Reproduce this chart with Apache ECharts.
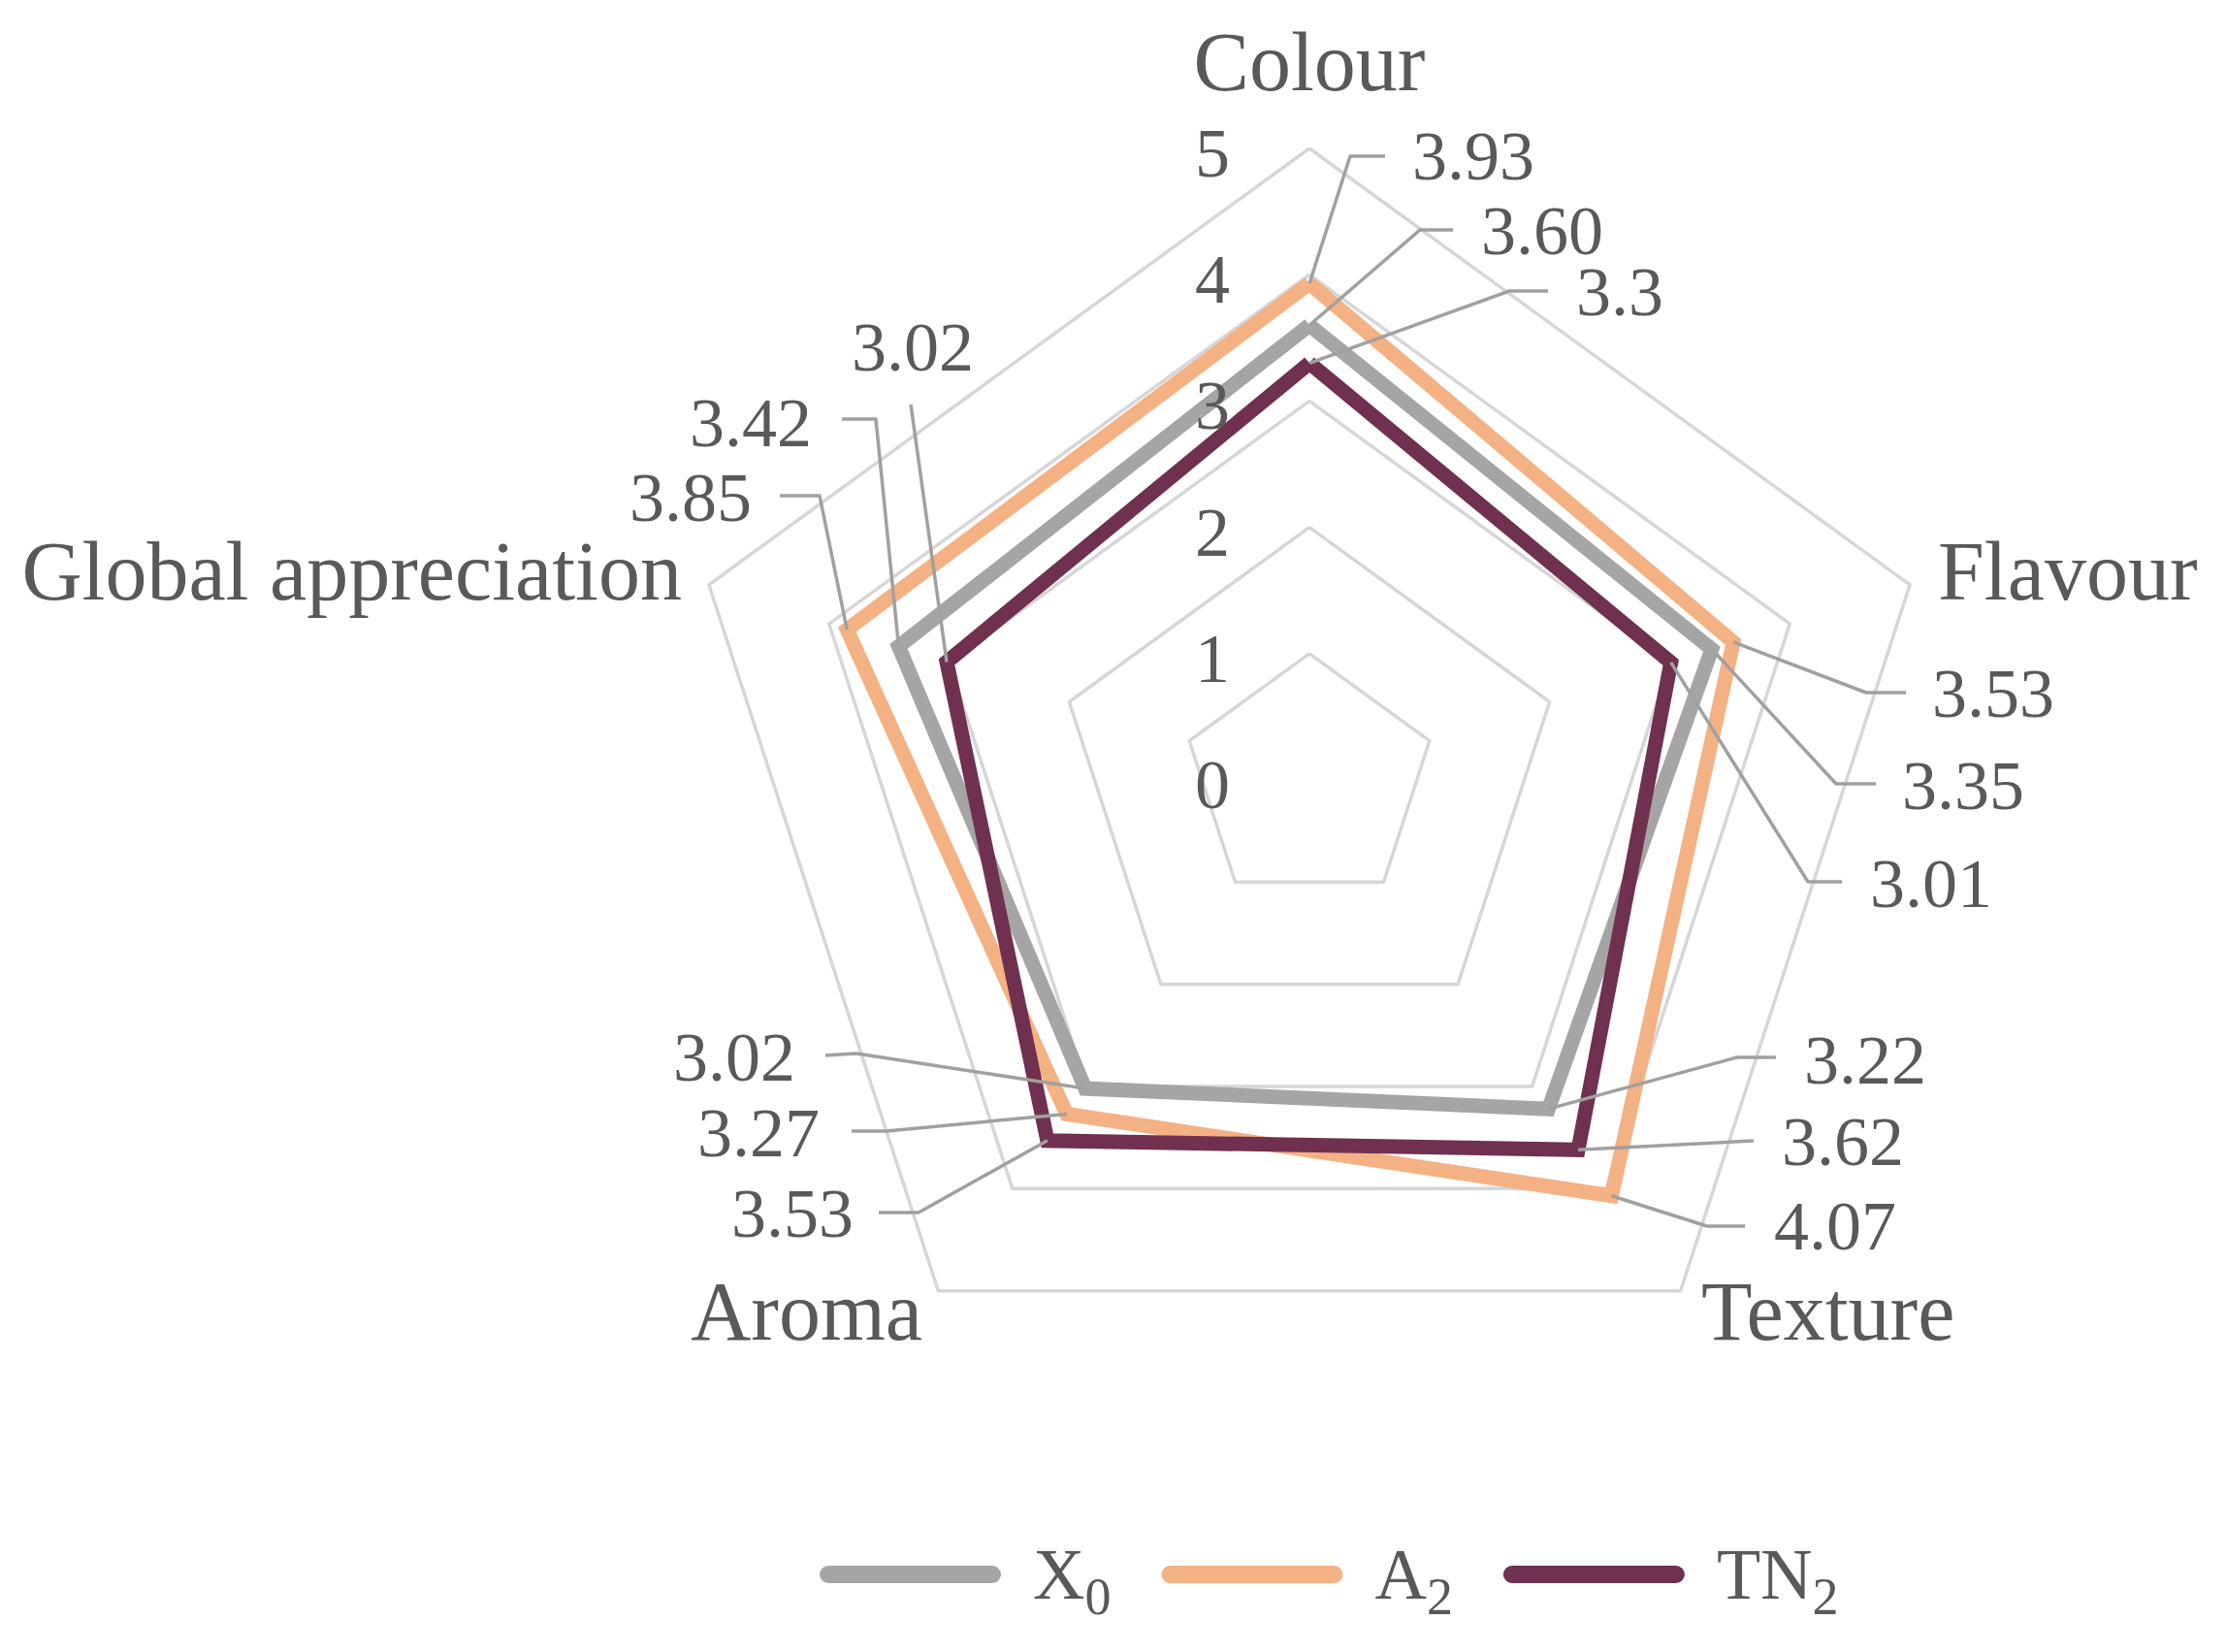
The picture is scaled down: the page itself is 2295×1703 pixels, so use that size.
<!DOCTYPE html>
<html>
<head>
<meta charset="utf-8">
<script src="https://cdn.jsdelivr.net/npm/echarts@6/dist/echarts.min.js"></script>
<style>html,body{margin:0;padding:0;background:#fff}#c{width:2295px;height:1703px}</style>
</head>
<body>
<div id="c"></div>
<script>
// ---- data (indicator order as laid out by ECharts: counter-clockwise from top) ----
const indicators = ['Colour', 'Global appreciation', 'Aroma', 'Texture', 'Flavour'];
const seriesNames = ['X0', 'A2', 'TN2'];
const x0Values  = ['3.60', '3.42', '3.02', '3.22', '3.35'];
const a2Values  = ['3.93', '3.85', '3.27', '4.07', '3.53'];
const tn2Values = ['3.3',  '3.02', '3.53', '3.62', '3.01'];
const tickLabels = ['0', '1', '2', '3', '4', '5'];

// ---- styles / layout ----
const FONT = '"Liberation Serif", "Times New Roman", serif';
const TEXT = '#595959';
const COLORS = ['#A5A5A5', '#F4B183', '#70304F'];
const LEADER = '#A0A0A0';

// axis name positions [x, y, align]
const nameLayout = [
  [1350, 64, 'center'],
  [703, 589, 'right'],
  [951, 1352, 'right'],
  [1754, 1352, 'left'],
  [1998, 589, 'left']
];
// label layout per series per indicator: end of leader, optional elbow, text anchor
const labelLayout = [
  [ // X0
    {elbow: [1464, 237], end: [1498, 237], text: [1527, 238], align: 'left'},
    {elbow: [903, 432],  end: [868, 432],  text: [837, 436],  align: 'right'},
    {elbow: [883, 1086], end: [851, 1088], text: [820, 1090], align: 'right'},
    {elbow: [1791, 1090], end: [1831, 1090], text: [1860, 1093], align: 'left'},
    {elbow: [1893, 808], end: [1934, 808], text: [1961, 810], align: 'left'}
  ],
  [ // A2
    {elbow: [1392, 161], end: [1428, 161], text: [1456, 161], align: 'left'},
    {elbow: [845, 511],  end: [804, 511],  text: [775, 513],  align: 'right'},
    {elbow: [914, 1166], end: [878, 1166], text: [845, 1168], align: 'right'},
    {elbow: [1760, 1264], end: [1799, 1264], text: [1829, 1264], align: 'left'},
    {elbow: [1924, 714], end: [1965, 714], text: [1992, 715], align: 'left'}
  ],
  [ // TN2
    {elbow: [1556, 300], end: [1596, 300], text: [1625, 301], align: 'left'},
    {elbow: null, end: [939, 417], text: [941, 358], align: 'center'},
    {elbow: [947, 1250], end: [906, 1250], text: [880, 1251], align: 'right'},
    {elbow: null, end: [1808, 1176], text: [1837, 1177], align: 'left'},
    {elbow: [1864, 909], end: [1899, 909], text: [1928, 911], align: 'left'}
  ]
];

const allValues = [x0Values, a2Values, tn2Values];

const chart = echarts.init(document.getElementById('c'), null, {renderer: 'svg'});

const option = {
  animation: false,
  backgroundColor: '#ffffff',
  radar: {
    center: [1350, 804],
    radius: 651,
    startAngle: 90,
    splitNumber: 5,
    shape: 'polygon',
    indicator: indicators.map(n => ({name: n, min: 0, max: 5})),
    axisName: {show: false},
    axisLine: {show: false},
    axisTick: {show: false},
    axisLabel: {show: false},
    splitLine: {lineStyle: {color: '#D6D6D6', width: 3.5, join: 'round'}},
    splitArea: {show: false}
  },
  legend: {
    data: seriesNames,
    left: 840,
    top: 1581,
    itemWidth: 187,
    itemHeight: 18,
    itemGap: 52,
    icon: 'path://M9 0H178A9 9 0 0 1 178 18H9A9 9 0 0 1 9 0Z',
    formatter: function (name) {
      const m = name.match(/^([A-Z]+)(\d)$/);
      return '{b|' + m[1] + '}{s|' + m[2] + '}';
    },
    textStyle: {
      color: TEXT, fontFamily: FONT, fontSize: 74, padding: [0, 0, 0, 28],
      rich: {
        b: {fontSize: 74, fontFamily: FONT, color: TEXT},
        s: {fontSize: 54, fontFamily: FONT, color: TEXT, padding: [46, 0, 0, 0]}
      }
    }
  },
  series: [{
    type: 'radar',
    symbol: 'none',
    z: 2,
    data: seriesNames.map((n, i) => ({
      name: n,
      value: allValues[i].map(Number),
      lineStyle: {color: COLORS[i], width: 15, join: 'miter'},
      itemStyle: {color: COLORS[i]}
    }))
  }]
};
chart.setOption(option);

// ---- annotations built from the radar coordinate system ----
const radarCS = chart.getModel().getComponent('radar', 0).coordinateSystem;
function pt(v, i) { return radarCS.dataToPoint(Number(v), i); }

const graphics = [];
function textEl(str, x, y, size, align) {
  return {
    type: 'text', z: 20, silent: true,
    style: {
      text: str, x: x, y: y, fill: TEXT,
      font: size + 'px ' + FONT,
      fontSize: size, fontFamily: FONT,
      textAlign: align, align: align,
      textVerticalAlign: 'middle', verticalAlign: 'middle'
    }
  };
}
// tick labels along Colour axis
tickLabels.forEach(t => {
  const p = pt(t, 0);
  graphics.push(textEl(t, p[0] - 82, p[1] + 5, 72, 'right'));
});
// axis names
indicators.forEach((n, i) => {
  const L = nameLayout[i];
  graphics.push(textEl(n, L[0], L[1], 86, L[2]));
});
// data labels with leader lines
allValues.forEach((vals, s) => {
  vals.forEach((v, i) => {
    const L = labelLayout[s][i];
    const p = pt(v, i);
    const pts = [p];
    if (L.elbow) pts.push(L.elbow);
    pts.push(L.end);
    graphics.push({
      type: 'polyline', z: 15, silent: true,
      shape: {points: pts},
      style: {stroke: LEADER, lineWidth: 3.5, fill: null, lineJoin: 'round'}
    });
    graphics.push(textEl(v, L.text[0], L.text[1], 72, L.align));
  });
});
chart.setOption({graphic: graphics});
</script>
</body>
</html>
